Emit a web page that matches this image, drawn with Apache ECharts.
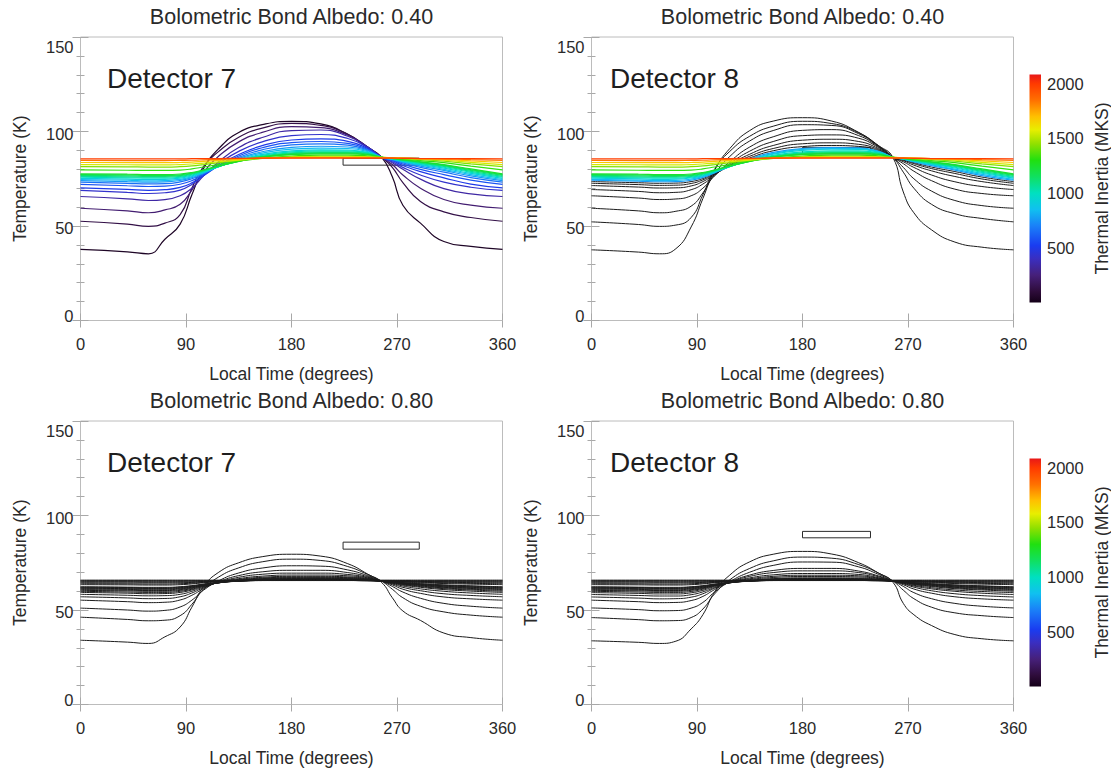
<!DOCTYPE html>
<html>
<head>
<meta charset="utf-8">
<title>Diurnal temperature curves</title>
<script src="https://cdn.jsdelivr.net/npm/echarts@6/dist/echarts.min.js"></script>
<style>
  html, body { margin: 0; padding: 0; background: #ffffff; }
  #chart { width: 1111px; height: 771px; }
</style>
</head>
<body>
<div id="chart"></div>
<script>
// Local time sample points (degrees) shared by every model curve
const localTime = [0, 40, 58, 72, 85, 95, 105, 118, 135, 155, 180, 205, 228, 245, 257, 266, 275, 290, 310, 333, 360];

// Thermal inertia (MKS) of each model curve, lowest first
const inertia = [40, 130, 230, 340, 430, 500, 580, 660, 760, 840, 920, 990, 1060, 1120, 1180, 1240, 1320, 1430, 1550, 1680, 1830, 1990];

// Colour bar extent and tick labels
const inertiaMax = 2085;
const inertiaTicks = [500, 1000, 1500, 2000];

// Observation boxes: [time from, time to, T low, T high]
const box7 = [224, 289, 82.2, 85.9];
const box8 = [180, 238, 88.2, 91.6];

// Detector 7, bond albedo 0.40 (K)
const det7Albedo40 = [
  [37.6, 36.3, 35.3, 43.0, 51.0, 66.5, 80.5, 91.0, 99.5, 103.6, 105.4, 104.0, 98.5, 91.5, 86.3, 76.0, 61.0, 51.5, 41.8, 39.2, 37.6],
  [52.5, 51.0, 49.8, 51.5, 56.0, 70.0, 81.5, 89.5, 97.0, 101.8, 104.3, 103.2, 98.5, 91.8, 86.3, 81.0, 73.0, 63.0, 57.5, 54.5, 52.5],
  [59.4, 58.0, 57.0, 58.5, 61.5, 69.0, 78.5, 87.0, 94.5, 99.5, 102.6, 102.0, 98.0, 91.8, 86.3, 82.5, 77.0, 70.0, 64.0, 61.0, 59.4],
  [65.6, 64.4, 63.5, 64.0, 66.0, 70.0, 76.5, 84.0, 91.5, 96.8, 100.5, 100.8, 97.5, 91.8, 86.3, 83.5, 80.0, 74.8, 69.8, 67.0, 65.6],
  [68.8, 67.8, 67.2, 67.6, 69.0, 72.0, 76.8, 83.0, 89.5, 94.5, 97.8, 98.4, 96.3, 91.5, 86.3, 84.0, 81.0, 77.0, 73.2, 70.5, 68.8],
  [70.2, 69.4, 68.9, 69.2, 70.4, 72.8, 76.6, 82.0, 87.8, 92.5, 95.5, 96.1, 94.8, 91.0, 86.3, 84.5, 82.0, 78.8, 75.5, 72.2, 70.2],
  [72.0, 71.3, 70.9, 71.1, 72.1, 74.0, 77.2, 81.8, 87.0, 91.4, 94.1, 94.7, 93.7, 90.6, 86.3, 84.8, 82.8, 80.0, 77.2, 74.3, 72.0],
  [73.2, 72.6, 72.3, 72.4, 73.3, 75.0, 77.7, 81.6, 86.3, 90.3, 92.9, 93.5, 92.8, 90.2, 86.3, 85.0, 83.4, 81.0, 78.5, 75.6, 73.2],
  [74.0, 73.5, 73.2, 73.3, 74.1, 75.6, 78.0, 81.5, 85.7, 89.3, 91.6, 92.2, 91.8, 89.8, 86.3, 85.2, 83.8, 81.7, 79.4, 76.5, 74.0],
  [74.6, 74.2, 73.9, 74.0, 74.7, 76.1, 78.3, 81.5, 85.3, 88.6, 90.7, 91.2, 91.0, 89.4, 86.3, 85.3, 84.1, 82.2, 80.0, 77.2, 74.6],
  [75.2, 74.8, 74.6, 74.7, 75.3, 76.5, 78.5, 81.4, 84.9, 87.9, 89.8, 90.3, 90.2, 89.0, 86.3, 85.4, 84.3, 82.6, 80.6, 77.8, 75.2],
  [75.8, 75.5, 75.3, 75.3, 75.9, 77.0, 78.8, 81.4, 84.6, 87.4, 89.2, 89.7, 89.7, 88.7, 86.3, 85.5, 84.5, 83.0, 81.1, 78.4, 75.8],
  [76.3, 76.0, 75.8, 75.8, 76.3, 77.4, 79.1, 81.5, 84.4, 87.0, 88.7, 89.2, 89.2, 88.4, 86.3, 85.6, 84.7, 83.3, 81.5, 78.9, 76.3],
  [76.8, 76.5, 76.3, 76.3, 76.7, 77.7, 79.3, 81.6, 84.3, 86.7, 88.3, 88.8, 88.8, 88.1, 86.3, 85.7, 84.9, 83.6, 81.9, 79.4, 76.8],
  [77.2, 77.0, 76.8, 76.8, 77.1, 78.0, 79.5, 81.7, 84.2, 86.5, 88.0, 88.5, 88.5, 87.9, 86.3, 85.8, 85.0, 83.8, 82.2, 79.8, 77.2],
  [77.6, 77.4, 77.2, 77.2, 77.5, 78.3, 79.7, 81.8, 84.2, 86.4, 87.8, 88.2, 88.2, 87.7, 86.3, 85.8, 85.1, 84.0, 82.5, 80.2, 77.6],
  [79.7, 79.5, 79.4, 79.4, 79.6, 80.2, 81.2, 82.6, 84.3, 85.9, 87.0, 87.5, 87.5, 87.1, 86.3, 85.9, 85.4, 84.6, 83.5, 81.7, 79.7],
  [81.4, 81.3, 81.2, 81.2, 81.4, 81.8, 82.5, 83.5, 84.7, 85.8, 86.6, 86.9, 86.9, 86.7, 86.3, 86.0, 85.7, 85.1, 84.3, 82.9, 81.4],
  [82.5, 82.4, 82.3, 82.3, 82.5, 82.8, 83.3, 84.0, 84.9, 85.8, 86.4, 86.6, 86.6, 86.5, 86.3, 86.1, 85.8, 85.4, 84.8, 83.7, 82.5],
  [83.6, 83.5, 83.5, 83.5, 83.6, 83.8, 84.2, 84.7, 85.3, 85.9, 86.2, 86.3, 86.3, 86.3, 86.2, 86.1, 85.9, 85.6, 85.2, 84.5, 83.6],
  [84.7, 84.6, 84.6, 84.6, 84.7, 84.8, 85.0, 85.3, 85.6, 85.9, 86.1, 86.1, 86.1, 86.1, 86.1, 86.0, 85.9, 85.7, 85.5, 85.1, 84.7],
  [85.5, 85.5, 85.5, 85.5, 85.5, 85.6, 85.6, 85.7, 85.8, 85.9, 85.9, 85.9, 85.9, 85.9, 85.9, 85.9, 85.8, 85.7, 85.6, 85.6, 85.5]
];

// Detector 8, bond albedo 0.40 (K); high-inertia curves coincide with detector 7
const det8Albedo40 = [
  [37.4, 36.2, 35.3, 38.0, 49.5, 64.5, 79.5, 91.0, 100.5, 105.5, 107.3, 105.5, 99.5, 92.5, 86.4, 68.0, 57.0, 48.0, 41.5, 38.8, 37.4],
  [52.2, 50.8, 49.8, 50.5, 54.5, 66.5, 80.0, 89.5, 97.5, 102.8, 105.4, 104.2, 99.3, 92.3, 86.4, 78.5, 70.0, 61.5, 56.5, 54.0, 52.2],
  [59.4, 58.0, 57.0, 57.8, 60.5, 67.5, 77.5, 86.8, 95.0, 100.5, 103.6, 103.2, 98.8, 92.2, 86.4, 81.0, 75.0, 68.5, 63.5, 60.8, 59.4],
  [66.0, 64.8, 64.0, 64.3, 66.0, 70.0, 76.5, 84.0, 91.8, 97.2, 100.6, 101.0, 97.8, 91.9, 86.4, 83.0, 79.0, 74.0, 69.5, 67.2, 66.0],
  [69.3, 68.3, 67.6, 67.8, 69.2, 72.2, 76.8, 83.0, 89.6, 94.7, 97.8, 98.2, 96.4, 91.5, 86.4, 84.0, 81.0, 77.0, 73.4, 70.9, 69.3],
  [71.4, 70.6, 70.1, 70.2, 71.2, 73.5, 77.2, 82.3, 88.0, 92.6, 95.4, 95.9, 94.7, 90.9, 86.4, 84.6, 82.2, 79.2, 76.2, 73.5, 71.4],
  [72.6, 71.9, 71.5, 71.6, 72.5, 74.4, 77.5, 81.9, 86.9, 91.0, 93.5, 94.0, 93.2, 90.4, 86.4, 84.9, 83.0, 80.4, 77.8, 74.9, 72.6],
  [73.5, 72.9, 72.6, 72.7, 73.5, 75.1, 77.8, 81.6, 86.0, 89.8, 92.0, 92.6, 92.1, 89.9, 86.4, 85.1, 83.5, 81.2, 78.8, 75.9, 73.5],
  [74.2, 73.7, 73.4, 73.5, 74.2, 75.7, 78.1, 81.5, 85.5, 89.0, 91.0, 91.5, 91.3, 89.5, 86.4, 85.3, 83.9, 81.9, 79.6, 76.7, 74.2],
  [74.7, 74.3, 74.0, 74.1, 74.8, 76.2, 78.4, 81.5, 85.2, 88.4, 90.5, 91.0, 90.9, 89.3, 86.4, 85.4, 84.2, 82.3, 80.1, 77.3, 74.7],
  [75.3, 74.9, 74.7, 74.8, 75.4, 76.6, 78.6, 81.5, 84.9, 88.0, 90.0, 90.6, 90.5, 89.0, 86.4, 85.5, 84.4, 82.7, 80.7, 77.9, 75.3]
].concat(det7Albedo40.slice(11));

// Detector 7, bond albedo 0.80 (K)
const det7Albedo80 = [
  [34.0, 33.0, 32.3, 35.8, 41.0, 51.5, 62.4, 70.0, 75.0, 78.2, 79.5, 78.5, 74.5, 69.0, 64.5, 56.5, 49.5, 44.5, 37.8, 35.4, 34.0],
  [46.2, 45.0, 44.3, 44.6, 47.0, 53.0, 61.0, 67.5, 72.3, 75.5, 76.9, 76.2, 73.0, 68.8, 65.2, 61.0, 56.5, 52.0, 49.0, 47.3, 46.2],
  [51.0, 50.0, 49.4, 49.8, 51.6, 55.2, 60.5, 65.5, 69.6, 72.2, 73.4, 73.2, 71.2, 68.2, 65.3, 62.5, 59.5, 56.2, 53.5, 52.0, 51.0],
  [55.2, 54.4, 53.9, 54.1, 55.3, 57.8, 61.3, 65.0, 68.2, 70.2, 71.0, 71.0, 69.8, 67.7, 65.3, 63.3, 61.0, 58.8, 56.9, 55.9, 55.2],
  [57.0, 56.4, 56.0, 56.1, 57.0, 59.0, 61.8, 64.7, 67.3, 68.9, 69.5, 69.5, 68.8, 67.3, 65.3, 63.8, 62.0, 60.2, 58.6, 57.7, 57.0],
  [58.3, 57.8, 57.5, 57.6, 58.3, 59.9, 62.2, 64.6, 66.6, 67.9, 68.5, 68.5, 68.1, 67.0, 65.3, 64.1, 62.7, 61.2, 59.9, 59.0, 58.3],
  [59.3, 58.9, 58.6, 58.7, 59.3, 60.6, 62.5, 64.5, 66.2, 67.3, 67.8, 67.8, 67.5, 66.7, 65.3, 64.3, 63.2, 62.0, 60.8, 60.0, 59.3],
  [59.9, 59.5, 59.3, 59.3, 59.9, 61.0, 62.7, 64.4, 65.9, 66.9, 67.3, 67.3, 67.1, 66.5, 65.3, 64.5, 63.5, 62.4, 61.3, 60.6, 59.9],
  [60.4, 60.1, 59.9, 59.9, 60.4, 61.4, 62.9, 64.4, 65.7, 66.6, 67.0, 67.0, 66.9, 66.3, 65.3, 64.6, 63.7, 62.7, 61.7, 61.0, 60.4],
  [60.8, 60.5, 60.3, 60.3, 60.8, 61.7, 63.0, 64.4, 65.6, 66.4, 66.7, 66.7, 66.6, 66.1, 65.3, 64.7, 63.9, 63.0, 62.0, 61.4, 60.8],
  [61.2, 60.9, 60.7, 60.7, 61.2, 62.0, 63.2, 64.4, 65.5, 66.2, 66.5, 66.5, 66.4, 66.0, 65.3, 64.8, 64.0, 63.2, 62.3, 61.7, 61.2],
  [61.5, 61.3, 61.1, 61.1, 61.5, 62.2, 63.3, 64.4, 65.4, 66.0, 66.3, 66.3, 66.2, 65.9, 65.3, 64.8, 64.1, 63.4, 62.6, 62.0, 61.5],
  [61.8, 61.6, 61.4, 61.4, 61.8, 62.5, 63.4, 64.5, 65.3, 65.9, 66.1, 66.1, 66.1, 65.8, 65.3, 64.9, 64.3, 63.6, 62.8, 62.3, 61.8],
  [62.1, 61.9, 61.7, 61.7, 62.1, 62.7, 63.6, 64.5, 65.3, 65.8, 66.0, 66.0, 66.0, 65.7, 65.3, 64.9, 64.4, 63.8, 63.1, 62.6, 62.1],
  [62.3, 62.1, 62.0, 62.0, 62.3, 62.9, 63.7, 64.6, 65.2, 65.7, 65.9, 65.9, 65.9, 65.7, 65.3, 65.0, 64.5, 63.9, 63.3, 62.8, 62.3],
  [63.4, 63.3, 63.2, 63.2, 63.4, 63.8, 64.4, 64.9, 65.4, 65.7, 65.8, 65.8, 65.8, 65.6, 65.3, 65.1, 64.8, 64.4, 64.0, 63.7, 63.4],
  [63.9, 63.8, 63.7, 63.7, 63.9, 64.2, 64.6, 65.0, 65.4, 65.6, 65.7, 65.7, 65.7, 65.6, 65.3, 65.2, 65.0, 64.7, 64.4, 64.1, 63.9],
  [64.4, 64.3, 64.3, 64.3, 64.4, 64.6, 64.9, 65.2, 65.4, 65.6, 65.6, 65.6, 65.6, 65.5, 65.4, 65.3, 65.1, 64.9, 64.7, 64.5, 64.4],
  [64.8, 64.8, 64.7, 64.7, 64.8, 64.9, 65.1, 65.3, 65.5, 65.6, 65.6, 65.6, 65.6, 65.5, 65.4, 65.3, 65.2, 65.1, 65.0, 64.9, 64.8],
  [65.2, 65.2, 65.2, 65.2, 65.2, 65.3, 65.4, 65.4, 65.5, 65.6, 65.6, 65.6, 65.6, 65.5, 65.5, 65.4, 65.4, 65.3, 65.3, 65.2, 65.2],
  [65.5, 65.5, 65.5, 65.5, 65.5, 65.5, 65.5, 65.6, 65.6, 65.6, 65.7, 65.7, 65.7, 65.6, 65.6, 65.6, 65.6, 65.5, 65.5, 65.5, 65.5],
  [65.8, 65.8, 65.8, 65.8, 65.8, 65.8, 65.8, 65.8, 65.8, 65.8, 65.8, 65.8, 65.8, 65.8, 65.8, 65.8, 65.8, 65.8, 65.8, 65.8, 65.8]
];

// Detector 8, bond albedo 0.80 (K); high-inertia curves coincide with detector 7
const det8Albedo80 = [
  [33.7, 32.9, 32.3, 33.5, 40.0, 47.5, 59.5, 68.5, 75.5, 79.5, 81.0, 79.6, 75.0, 69.5, 64.8, 53.5, 47.5, 41.8, 37.0, 34.8, 33.7],
  [46.0, 44.9, 44.3, 44.4, 46.0, 50.5, 58.5, 66.0, 72.0, 76.0, 78.0, 77.4, 74.0, 69.5, 65.4, 60.5, 56.0, 51.5, 48.5, 47.0, 46.0],
  [51.1, 50.2, 49.6, 49.7, 51.0, 54.0, 59.5, 65.0, 70.0, 73.6, 75.4, 75.3, 72.8, 68.8, 65.4, 62.5, 59.2, 56.0, 53.5, 52.0, 51.1],
  [55.2, 54.4, 53.9, 54.0, 55.0, 57.2, 60.8, 64.8, 68.5, 70.9, 72.0, 72.0, 70.6, 68.0, 65.4, 63.4, 61.1, 58.9, 57.0, 55.9, 55.2],
  [56.9, 56.3, 55.9, 56.0, 56.8, 58.6, 61.5, 64.7, 67.8, 69.8, 70.7, 70.7, 69.8, 67.6, 65.4, 63.9, 62.1, 60.2, 58.6, 57.6, 56.9],
  [58.2, 57.7, 57.4, 57.4, 58.1, 59.6, 61.9, 64.6, 67.0, 68.6, 69.3, 69.3, 68.8, 67.1, 65.4, 64.1, 62.7, 61.2, 59.9, 58.9, 58.2],
  [59.2, 58.8, 58.5, 58.5, 59.1, 60.4, 62.4, 64.6, 66.5, 67.8, 68.4, 68.4, 68.1, 66.8, 65.4, 64.3, 63.1, 61.8, 60.6, 59.8, 59.2],
  [59.9, 59.5, 59.3, 59.3, 59.8, 61.0, 62.7, 64.5, 66.1, 67.2, 67.7, 67.7, 67.5, 66.6, 65.4, 64.5, 63.5, 62.4, 61.3, 60.6, 59.9]
].concat(det7Albedo80.slice(8));

// Rainbow colour table used for thermal inertia
const rainbow = [
  [0, '#140018'], [100, '#2e0c3a'], [250, '#46207a'], [400, '#3a2ec0'],
  [520, '#1a3cf0'], [700, '#1a80f8'], [850, '#10c0f0'], [1000, '#00e0c0'],
  [1150, '#10e060'], [1300, '#20e010'], [1450, '#90e000'], [1580, '#e8ee00'],
  [1700, '#ffc000'], [1850, '#ff7000'], [2000, '#ff3a00'], [2085, '#e81818']
];

function hexRgb(h) {
  return [1, 3, 5].map(i => parseInt(h.substr(i, 2), 16));
}
function inertiaColour(v) {
  for (let i = 1; i < rainbow.length; i++) {
    if (v <= rainbow[i][0]) {
      const [v0, c0] = rainbow[i - 1];
      const [v1, c1] = rainbow[i];
      const t = (v - v0) / (v1 - v0);
      const a = hexRgb(c0), b = hexRgb(c1);
      const c = a.map((x, k) => Math.round(x + (b[k] - x) * t));
      return 'rgb(' + c.join(',') + ')';
    }
  }
  return rainbow[rainbow.length - 1][1];
}

const FONT = '"Liberation Sans", Arial, Helvetica, sans-serif';
const TEXT = '#2a2a2a';
const TICK = '#a8a8a8';
const PW = 422, PH = 283.5;

const panels = [
  { left: 80.5, top: 37, albedo: '0.40', detector: 'Detector 7', labelDx: 26.5, curves: det7Albedo40, colourFrom: 0, box: box7 },
  { left: 591.5, top: 37, albedo: '0.40', detector: 'Detector 8', labelDx: 18.5, curves: det8Albedo40, colourFrom: 8, box: box8 },
  { left: 80.5, top: 421, albedo: '0.80', detector: 'Detector 7', labelDx: 26.5, curves: det7Albedo80, colourFrom: 99, box: box7 },
  { left: 591.5, top: 421, albedo: '0.80', detector: 'Detector 8', labelDx: 18.5, curves: det8Albedo80, colourFrom: 99, box: box8 }
];
const colourBars = [{ top: 74.5 }, { top: 458.5 }];
const CB_LEFT = 1029.5, CB_W = 11.5, CB_H = 228;

const grid = [], xAxis = [], yAxis = [], series = [], graphic = [];

const tickStyle = { show: true, inside: true, length: 7, lineStyle: { color: TICK, width: 1 } };

panels.forEach((p, i) => {
  grid.push({ left: p.left, top: p.top, width: PW, height: PH, show: true,
    borderColor: '#bcbcbc', borderWidth: 1, backgroundColor: 'transparent' });

  const xBase = { type: 'value', gridIndex: i, min: 0, max: 360, interval: 90,
    axisLine: { show: false }, splitLine: { show: false }, axisTick: tickStyle };
  xAxis.push(Object.assign({}, xBase, { position: 'bottom',
    axisLabel: { show: true, margin: 15, fontSize: 16.5, fontFamily: FONT, color: TEXT } }));
  xAxis.push(Object.assign({}, xBase, { position: 'top', axisLabel: { show: false } }));

  const yBase = { type: 'value', gridIndex: i, min: 0, max: 150, interval: 50,
    axisLine: { show: false }, splitLine: { show: false },
    axisTick: { show: true, inside: true, length: 8, lineStyle: { color: TICK, width: 1 } },
    minorTick: { show: true, splitNumber: 5, length: 4, lineStyle: { color: TICK, width: 1 } } };
  const lab = { fontSize: 16.5, fontFamily: FONT, color: TEXT };
  yAxis.push(Object.assign({}, yBase, { position: 'left',
    axisLabel: { show: true, margin: 7,
      formatter: v => v === 0 ? '{lo|0}' : (v === 150 ? '{hi|150}' : '{mid|' + v + '}'),
      rich: {
        lo: Object.assign({ padding: [0, 0, 10, 0] }, lab),
        hi: Object.assign({ padding: [19, 0, 0, 0] }, lab),
        mid: Object.assign({ padding: [4, 0, 0, 0] }, lab)
      } } }));
  yAxis.push(Object.assign({}, yBase, { position: 'right', axisLabel: { show: false } }));

  // observation box
  const b = p.box;
  series.push({ type: 'line', xAxisIndex: 2 * i, yAxisIndex: 2 * i, silent: true,
    showSymbol: false, z: 2,
    data: [[b[0], b[2]], [b[1], b[2]], [b[1], b[3]], [b[0], b[3]], [b[0], b[2]]],
    lineStyle: { color: '#2b2b2b', width: 1 } });

  // model curves, lowest inertia first so the flat high-inertia curves sit on top
  p.curves.forEach((temps, k) => {
    const coloured = k >= p.colourFrom;
    series.push({ type: 'line', xAxisIndex: 2 * i, yAxisIndex: 2 * i, silent: true,
      showSymbol: false, smooth: 0.5, z: 3,
      data: localTime.map((t, n) => [t, temps[n]]),
      lineStyle: { color: coloured ? inertiaColour(inertia[k]) : '#1c1c1c', width: coloured ? 1.2 : 1 } });
  });

  graphic.push({ type: 'text', x: p.left + PW / 2, y: p.top - 20,
    style: { text: 'Bolometric Bond Albedo: ' + p.albedo, fontSize: 21.5, fontFamily: FONT, fill: TEXT,
      align: 'center', verticalAlign: 'middle' } });
  graphic.push({ type: 'text', x: p.left + p.labelDx, y: p.top + 41,
    style: { text: p.detector, fontSize: 28, fontFamily: FONT, fill: '#1e1e1e',
      align: 'left', verticalAlign: 'middle' } });
  graphic.push({ type: 'text', x: p.left - 60.5, y: p.top + PH / 2, rotation: Math.PI / 2,
    style: { text: 'Temperature (K)', fontSize: 17.5, fontFamily: FONT, fill: TEXT,
      align: 'center', verticalAlign: 'middle' } });
  graphic.push({ type: 'text', x: p.left + PW / 2, y: p.top + PH + 53,
    style: { text: 'Local Time (degrees)', fontSize: 17.5, fontFamily: FONT, fill: TEXT,
      align: 'center', verticalAlign: 'middle' } });
});

// vertical rainbow fill for the colour bars, dark at zero inertia
const gradient = {
  type: 'linear', x: 0, y: 1, x2: 0, y2: 0, global: false,
  colorStops: rainbow.map(([v, c]) => ({ offset: v / inertiaMax, color: c }))
};

colourBars.forEach((cb, j) => {
  const gi = panels.length + j;
  grid.push({ left: CB_LEFT, top: cb.top, width: CB_W, height: CB_H, show: false });
  xAxis.push({ type: 'category', gridIndex: gi, data: ['TI'], boundaryGap: true,
    axisLine: { show: false }, axisTick: { show: false }, axisLabel: { show: false } });
  yAxis.push({ type: 'value', gridIndex: gi, position: 'right', min: 0, max: inertiaMax, interval: 500,
    axisLine: { show: false }, axisTick: { show: false }, splitLine: { show: false },
    axisLabel: { show: true, margin: 6, fontSize: 16.5, fontFamily: FONT, color: TEXT,
      showMaxLabel: false,
      formatter: v => inertiaTicks.indexOf(v) >= 0 ? String(v) : '' } });
  series.push({ type: 'bar', xAxisIndex: 8 + j, yAxisIndex: 8 + j, silent: true,
    barWidth: '100%', barCategoryGap: '0%', data: [inertiaMax],
    itemStyle: { color: gradient, borderWidth: 0 } });
  graphic.push({ type: 'text', x: 1102, y: cb.top + CB_H / 2, rotation: Math.PI / 2,
    style: { text: 'Thermal Inertia (MKS)', fontSize: 17.5, fontFamily: FONT, fill: TEXT,
      align: 'center', verticalAlign: 'middle' } });
});

const chart = echarts.init(document.getElementById('chart'), null, { renderer: 'svg', width: 1111, height: 771 });
chart.setOption({
  animation: false,
  backgroundColor: '#ffffff',
  grid, xAxis, yAxis, series, graphic
});
</script>
</body>
</html>
